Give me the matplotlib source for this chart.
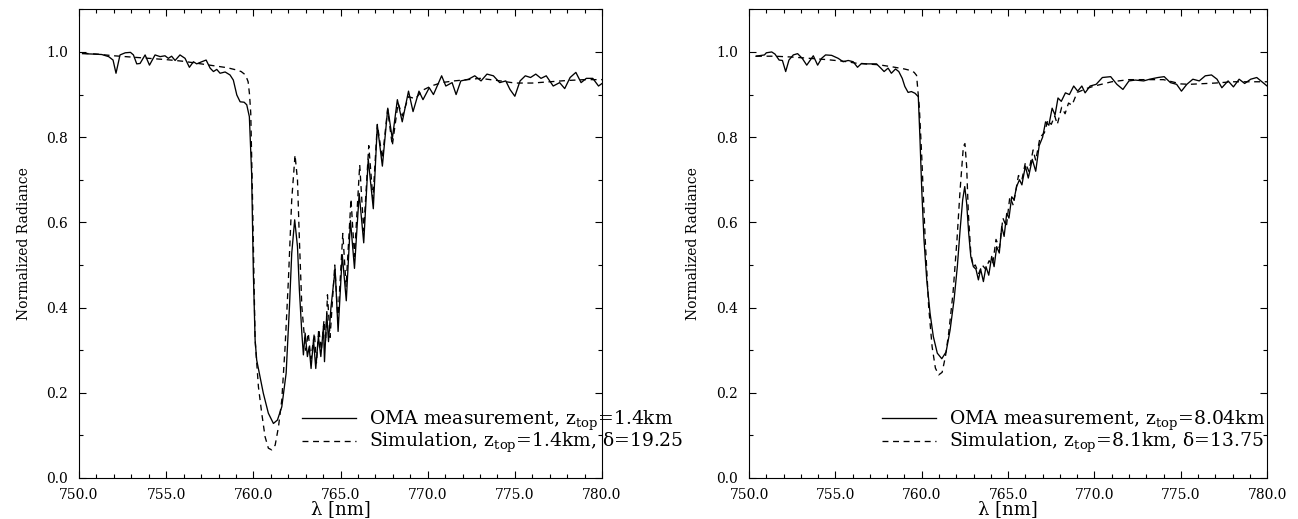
import matplotlib

matplotlib.use("Agg")
import matplotlib.pyplot as plt
from matplotlib.ticker import FormatStrFormatter, MultipleLocator

plt.rcParams["font.family"] = ["DejaVu Serif"]
plt.rcParams["mathtext.fontset"] = "dejavuserif"

# left panel, cloud top 1.4 km
meas1_wl = [750.2, 750.8, 751.3, 751.7, 751.95, 752.12, 752.35, 752.65, 752.95, 753.12,
            753.31, 753.5, 753.79, 754.04, 754.36, 754.65, 754.93, 755.12, 755.31, 755.51,
            755.79, 756.08, 756.33, 756.56, 756.75, 757.04, 757.29, 757.52, 757.71, 757.9,
            758.09, 758.38, 758.66, 758.85, 759.05, 759.24, 759.47, 759.62, 759.77, 759.9,
            760.0, 760.1, 760.19, 760.38, 760.57, 760.86, 761.15, 761.38, 761.63, 761.88,
            762.07, 762.2, 762.37, 762.53, 762.64, 762.78, 762.87, 762.97, 763.1, 763.2,
            763.31, 763.45, 763.58, 763.73, 763.87, 764.02, 764.08, 764.21, 764.31, 764.45,
            764.69, 764.86, 765.1, 765.33, 765.57, 765.8, 766.07, 766.33, 766.59, 766.88,
            767.11, 767.4, 767.71, 767.97, 768.26, 768.54, 768.9, 769.16, 769.5, 769.73,
            770.09, 770.33, 770.8, 771.04, 771.4, 771.63, 771.9, 772.34, 772.7, 773.06,
            773.4, 773.77, 774.13, 774.48, 774.72, 775.0, 775.3, 775.6, 775.9, 776.2,
            776.5, 776.8, 777.2, 777.57, 777.86, 778.17, 778.5, 778.8, 779.1, 779.47,
            779.8, 780.0]
meas1_rad = [0.996, 0.995, 0.994, 0.989, 0.981, 0.950, 0.993, 0.998, 0.999, 0.993,
             0.972, 0.973, 0.993, 0.969, 0.993, 0.989, 0.991, 0.985, 0.990, 0.980,
             0.993, 0.985, 0.964, 0.977, 0.972, 0.977, 0.981, 0.962, 0.954, 0.959,
             0.950, 0.953, 0.946, 0.934, 0.899, 0.883, 0.882, 0.876, 0.848, 0.715,
             0.480, 0.324, 0.277, 0.238, 0.199, 0.152, 0.128, 0.136, 0.167, 0.246,
             0.402, 0.527, 0.606, 0.543, 0.441, 0.340, 0.289, 0.340, 0.285, 0.308,
             0.257, 0.324, 0.257, 0.332, 0.285, 0.355, 0.273, 0.387, 0.320, 0.400,
             0.490, 0.344, 0.524, 0.416, 0.604, 0.492, 0.668, 0.552, 0.748, 0.632,
             0.828, 0.732, 0.868, 0.796, 0.888, 0.836, 0.908, 0.860, 0.908, 0.888,
             0.916, 0.900, 0.944, 0.920, 0.928, 0.900, 0.932, 0.936, 0.944, 0.932,
             0.948, 0.944, 0.928, 0.932, 0.912, 0.896, 0.932, 0.944, 0.940, 0.948,
             0.938, 0.944, 0.920, 0.928, 0.914, 0.940, 0.952, 0.928, 0.938, 0.938,
             0.920, 0.926]

sim1_wl = [750.2, 751.0, 752.0, 753.0, 754.0, 755.0, 756.0, 757.0, 757.5, 758.0,
           758.5, 759.0, 759.3, 759.55, 759.7, 759.78, 759.85, 759.96, 760.1, 760.29,
           760.48, 760.67, 760.86, 761.05, 761.25, 761.44, 761.63, 761.82, 762.01, 762.2,
           762.39, 762.53, 762.64, 762.78, 762.91, 763.0, 763.15, 763.3, 763.5, 763.62,
           763.75, 763.9, 764.05, 764.15, 764.25, 764.4, 764.67, 764.85, 765.13, 765.32,
           765.6, 765.8, 766.1, 766.33, 766.62, 766.86, 767.11, 767.4, 767.7, 767.97,
           768.3, 768.55, 768.9, 769.3, 769.7, 770.2, 770.8, 771.5, 772.3, 773.0,
           774.0, 775.0, 776.0, 777.0, 778.0, 779.0, 780.0]
sim1_rad = [0.997, 0.995, 0.991, 0.988, 0.985, 0.982, 0.978, 0.972, 0.969, 0.966,
            0.963, 0.958, 0.954, 0.946, 0.930, 0.900, 0.856, 0.637, 0.324, 0.214,
            0.152, 0.097, 0.070, 0.066, 0.077, 0.120, 0.183, 0.308, 0.465, 0.653,
            0.758, 0.700, 0.559, 0.402, 0.340, 0.300, 0.340, 0.280, 0.340, 0.270,
            0.350, 0.300, 0.370, 0.320, 0.430, 0.330, 0.500, 0.370, 0.574, 0.450,
            0.655, 0.520, 0.735, 0.580, 0.780, 0.655, 0.830, 0.750, 0.865, 0.780,
            0.880, 0.850, 0.895, 0.890, 0.910, 0.920, 0.928, 0.932, 0.935, 0.938,
            0.933, 0.927, 0.927, 0.930, 0.933, 0.935, 0.935]

# right panel, cloud top 8 km
meas2_wl = [750.4, 750.89, 751.0, 751.31, 751.5, 751.74, 751.93, 752.12, 752.31, 752.56,
            752.81, 753.08, 753.34, 753.53, 753.72, 753.97, 754.2, 754.43, 754.78, 755.16,
            755.45, 755.74, 756.03, 756.28, 756.51, 756.8, 757.09, 757.38, 757.63, 757.82,
            758.05, 758.24, 758.48, 758.67, 758.87, 759.02, 759.21, 759.4, 759.61, 759.8,
            759.9, 760.0, 760.13, 760.29, 760.48, 760.67, 760.9, 761.16, 761.41, 761.64,
            761.87, 762.06, 762.22, 762.37, 762.49, 762.6, 762.72, 762.84, 762.99, 763.14,
            763.28, 763.41, 763.57, 763.72, 763.88, 764.05, 764.19, 764.34, 764.49, 764.63,
            764.77, 764.92, 765.05, 765.21, 765.34, 765.5, 765.66, 765.8, 766.0, 766.17,
            766.4, 766.6, 766.8, 767.0, 767.17, 767.36, 767.55, 767.72, 767.89, 768.08,
            768.32, 768.55, 768.8, 769.03, 769.27, 769.46, 769.75, 770.1, 770.46, 770.94,
            771.3, 771.65, 772.0, 772.37, 772.85, 773.2, 773.68, 774.04, 774.4, 774.76,
            775.04, 775.35, 775.7, 776.07, 776.42, 776.78, 777.1, 777.38, 777.74, 778.05,
            778.38, 778.7, 779.05, 779.4, 779.76, 780.0]
meas2_rad = [0.990, 0.993, 0.998, 1.000, 0.995, 0.981, 0.980, 0.954, 0.981, 0.993,
             0.996, 0.985, 0.969, 0.980, 0.991, 0.969, 0.985, 0.993, 0.992, 0.985,
             0.977, 0.980, 0.977, 0.964, 0.973, 0.972, 0.972, 0.972, 0.962, 0.954,
             0.962, 0.950, 0.960, 0.954, 0.938, 0.919, 0.905, 0.907, 0.903, 0.895,
             0.793, 0.676, 0.559, 0.465, 0.387, 0.332, 0.293, 0.280, 0.296, 0.347,
             0.418, 0.496, 0.582, 0.653, 0.684, 0.645, 0.574, 0.520, 0.496, 0.490,
             0.465, 0.490, 0.461, 0.496, 0.476, 0.520, 0.496, 0.543, 0.528, 0.590,
             0.567, 0.621, 0.610, 0.660, 0.653, 0.685, 0.700, 0.688, 0.732, 0.704,
             0.748, 0.720, 0.780, 0.800, 0.836, 0.828, 0.868, 0.852, 0.892, 0.884,
             0.904, 0.900, 0.920, 0.908, 0.920, 0.904, 0.920, 0.924, 0.940, 0.942,
             0.924, 0.912, 0.932, 0.934, 0.932, 0.936, 0.940, 0.942, 0.928, 0.924,
             0.908, 0.924, 0.936, 0.932, 0.944, 0.946, 0.936, 0.916, 0.932, 0.918,
             0.936, 0.926, 0.936, 0.940, 0.928, 0.920]

sim2_wl = [750.4, 751.5, 752.5, 753.5, 754.5, 755.5, 756.3, 757.5, 758.3, 759.0,
           759.4, 759.56, 759.7, 759.86, 760.0, 760.2, 760.4, 760.6, 760.79, 760.98,
           761.18, 761.37, 761.56, 761.81, 762.04, 762.22, 762.41, 762.5, 762.6, 762.7,
           762.84, 762.99, 763.1, 763.3, 763.5, 763.7, 763.9, 764.1, 764.3, 764.5,
           764.7, 764.9, 765.1, 765.3, 765.6, 765.8, 766.0, 766.2, 766.45, 766.6,
           766.85, 767.1, 767.3, 767.5, 767.7, 767.85, 768.1, 768.3, 768.5, 768.7,
           769.0, 769.3, 769.6, 770.0, 770.5, 771.0, 772.0, 773.0, 774.0, 774.5,
           775.0, 775.5, 776.0, 777.0, 778.0, 779.0, 780.0]
sim2_rad = [0.990, 0.990, 0.988, 0.985, 0.982, 0.978, 0.973, 0.970, 0.965, 0.960,
            0.956, 0.952, 0.945, 0.870, 0.754, 0.559, 0.402, 0.308, 0.258, 0.242,
            0.248, 0.285, 0.340, 0.434, 0.559, 0.676, 0.778, 0.785, 0.731, 0.620,
            0.528, 0.496, 0.500, 0.480, 0.500, 0.490, 0.510, 0.500, 0.560, 0.540,
            0.610, 0.590, 0.660, 0.640, 0.710, 0.700, 0.740, 0.720, 0.770, 0.745,
            0.800, 0.810, 0.840, 0.830, 0.850, 0.830, 0.870, 0.855, 0.880, 0.875,
            0.905, 0.910, 0.915, 0.920, 0.925, 0.930, 0.935, 0.935, 0.935, 0.930,
            0.925, 0.924, 0.925, 0.927, 0.930, 0.930, 0.930]

labels1 = ["OMA measurement, z$_{\\rm top}$=1.4km",
           "Simulation, z$_{\\rm top}$=1.4km, δ=19.25"]
labels2 = ["OMA measurement, z$_{\\rm top}$=8.04km",
           "Simulation, z$_{\\rm top}$=8.1km, δ=13.75"]


def draw_panel(ax, m_wl, m_rad, s_wl, s_rad, labels, legend_x, ylabel_x):
    ax.plot(m_wl, m_rad, color="black", lw=0.95, label=labels[0])
    ax.plot(s_wl, s_rad, color="black", lw=0.95, dashes=(4.5, 3.5), label=labels[1])
    ax.set_xlim(750, 780)
    ax.set_ylim(0, 1.1)
    ax.xaxis.set_major_locator(MultipleLocator(5))
    ax.xaxis.set_minor_locator(MultipleLocator(1))
    ax.yaxis.set_major_locator(MultipleLocator(0.2))
    ax.yaxis.set_minor_locator(MultipleLocator(0.1))
    ax.xaxis.set_major_formatter(FormatStrFormatter("%.1f"))
    ax.yaxis.set_major_formatter(FormatStrFormatter("%.1f"))
    ax.tick_params(which="both", direction="in", top=True, right=True, labelsize=10)
    ax.tick_params(which="major", length=5, width=0.8)
    ax.tick_params(which="minor", length=3, width=0.8)
    ax.tick_params(axis="x", which="major", pad=7)
    ax.tick_params(axis="y", which="major", pad=8)
    ax.set_xlabel("λ [nm]", fontsize=13)
    ax.xaxis.set_label_coords(0.5, -0.046)
    ax.set_ylabel("Normalized Radiance", fontsize=10)
    ax.yaxis.set_label_coords(ylabel_x, 0.5)
    ax.legend(loc="center left", bbox_to_anchor=(legend_x, 0.098), frameon=False,
              fontsize=13.5, handlelength=2.9, handletextpad=0.7, labelspacing=-0.1,
              borderpad=0, borderaxespad=0)


fig = plt.figure(figsize=(12.98, 5.19), dpi=100)
ax1 = fig.add_axes([0.0609, 0.079, 0.4029, 0.903])
ax2 = fig.add_axes([0.5771, 0.079, 0.3991, 0.903])

draw_panel(ax1, meas1_wl, meas1_rad, sim1_wl, sim1_rad, labels1, 0.426, -0.092)
draw_panel(ax2, meas2_wl, meas2_rad, sim2_wl, sim2_rad, labels2, 0.256, -0.095)

fig.savefig("out.png", dpi=100)
plt.close("all")
